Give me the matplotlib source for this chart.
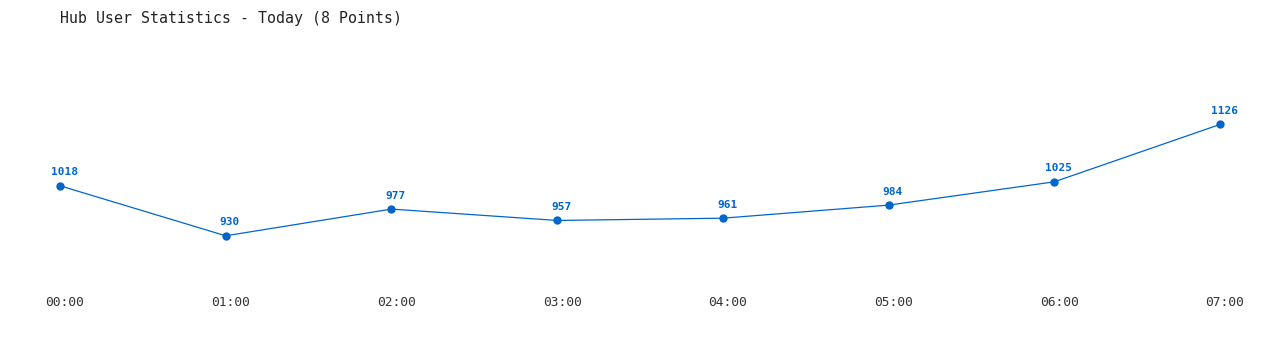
import matplotlib
matplotlib.use('Agg')
import matplotlib.pyplot as plt
import matplotlib.transforms as mtransforms

hours = ['00:00', '01:00', '02:00', '03:00', '04:00', '05:00', '06:00', '07:00']
users = [1018, 930, 977, 957, 961, 984, 1025, 1126]
title = 'Hub User Statistics - Today (8 Points)'

line_color = '#0066cc'

fig = plt.figure(figsize=(12.8, 3.5), dpi=100)
ax = fig.add_axes([0, 0, 1, 1])
x = list(range(len(users)))
ax.plot(x, users, color=line_color, linewidth=0.9, marker='o', markersize=5)
for xi, v in zip(x, users):
    ax.annotate(str(v), (xi, v), xytext=(3, 6), textcoords='offset points',
                ha='center', va='bottom', fontsize=8, fontweight='bold',
                color=line_color, family='DejaVu Sans Mono')

ax.set_xlim(-0.362, 7.362)
ax.set_ylim(729, 1345)
ax.axis('off')

# hour labels under the line
trans = mtransforms.blended_transform_factory(ax.transData, fig.transFigure)
for xi, h in zip(x, hours):
    ax.text(xi + 0.03, 1 - 303 / 350, h, transform=trans, ha='center', va='center',
            fontsize=9.3, color='#333333', family='DejaVu Sans Mono')

fig.text(60 / 1280, 1 - 18 / 350, title, ha='left', va='center', fontsize=10.7,
         color='#222222', family='DejaVu Sans Mono')

fig.savefig('out.png', dpi=100)
